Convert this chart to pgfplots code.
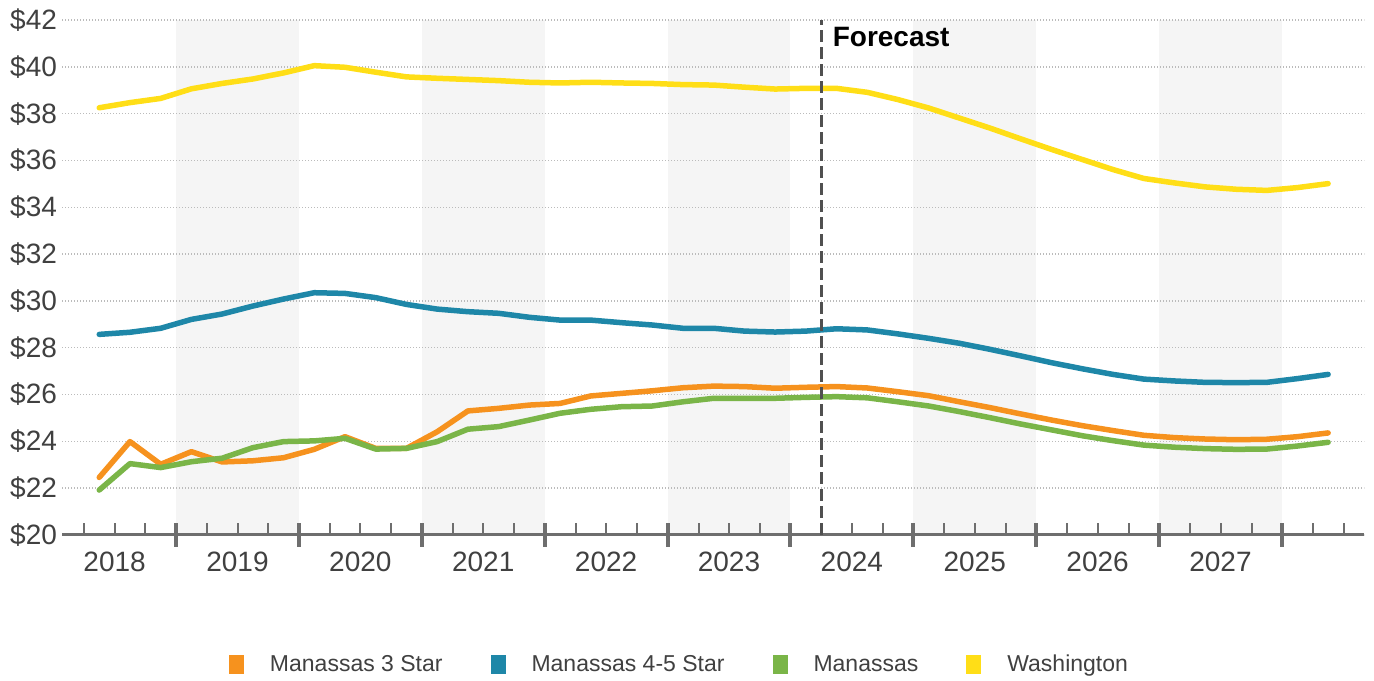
\documentclass[border=0pt]{standalone}
\usepackage{pgfplots}
\pgfplotsset{compat=1.18}
\usepackage{pgfplotstable}
\usepackage{fontspec}
\setmainfont{Liberation Sans}

\definecolor{star3}{HTML}{F6921E}
\definecolor{star45}{HTML}{1E87A8}
\definecolor{manassas}{HTML}{7AB548}
\definecolor{washington}{HTML}{FFDE17}
\definecolor{band}{HTML}{F5F5F5}
\definecolor{axisgray}{HTML}{6E6E6E}
\definecolor{dashgray}{HTML}{505050}
\definecolor{labelgray}{HTML}{404040}
\definecolor{gridgray}{HTML}{BBBBBB}

% Quarterly asking rent per square foot, 2018 Q2 - 2028 Q2
\pgfplotstableread{
x        s3     s45    man    wash
2018.375 22.46  28.57  21.92  38.25
2018.625 23.99  28.66  23.05  38.47
2018.875 23.02  28.83  22.88  38.65
2019.125 23.56  29.21  23.13  39.06
2019.375 23.12  29.44  23.28  39.29
2019.625 23.17  29.78  23.73  39.48
2019.875 23.30  30.08  23.99  39.74
2020.125 23.66  30.35  24.02  40.05
2020.375 24.20  30.32  24.13  39.98
2020.625 23.70  30.14  23.67  39.77
2020.875 23.70  29.85  23.70  39.57
2021.125 24.41  29.65  23.99  39.51
2021.375 25.30  29.54  24.52  39.46
2021.625 25.41  29.47  24.63  39.41
2021.875 25.55  29.30  24.91  39.34
2022.125 25.62  29.18  25.20  39.31
2022.375 25.94  29.18  25.37  39.34
2022.625 26.05  29.07  25.48  39.31
2022.875 26.16  28.97  25.51  39.29
2023.125 26.29  28.83  25.69  39.24
2023.375 26.36  28.83  25.84  39.22
2023.625 26.34  28.71  25.84  39.13
2023.875 26.27  28.67  25.84  39.05
2024.125 26.31  28.71  25.88  39.08
2024.375 26.34  28.81  25.91  39.08
2024.625 26.28  28.76  25.86  38.91
2024.875 26.12  28.59  25.69  38.60
2025.125 25.95  28.40  25.51  38.24
2025.375 25.69  28.19  25.27  37.81
2025.625 25.44  27.93  25.01  37.38
2025.875 25.17  27.65  24.74  36.92
2026.125 24.91  27.36  24.49  36.47
2026.375 24.67  27.10  24.24  36.04
2026.625 24.46  26.86  24.03  35.61
2026.875 24.26  26.66  23.84  35.23
2027.125 24.16  26.58  23.75  35.04
2027.375 24.10  26.52  23.69  34.87
2027.625 24.07  26.51  23.66  34.77
2027.875 24.09  26.52  23.67  34.72
2028.125 24.20  26.68  23.80  34.84
2028.375 24.36  26.86  23.96  35.01
}\rents

\begin{document}
\begin{tikzpicture}
\begin{axis}[
  at={(31bp,73bp)}, anchor=south west,
  scale only axis, width=651bp, height=257.5bp,
  xmin=2018.072, xmax=2028.667, ymin=20, ymax=42,
  set layers,
  axis x line*=bottom, axis y line*=left,
  y axis line style={draw=none},
  x axis line style={draw=axisgray, line width=1.5bp},
  ytick={20,22,...,42},
  yticklabels={\$20,\$22,\$24,\$26,\$28,\$30,\$32,\$34,\$36,\$38,\$40,\$42},
  ytick style={draw=none},
  ymajorgrids,
  y grid style={gridgray, line width=0.7bp, dash pattern=on 0.7bp off 0.8bp},
  xtick={2018.5,2019.5,...,2027.5},
  xticklabels={2018,2019,2020,2021,2022,2023,2024,2025,2026,2027},
  minor xtick={2018.25,2018.5,...,2028.5},
  xtick align=inside,
  major tick length=0pt,
  minor tick length=6bp,
  minor x tick style={draw=axisgray, line width=1bp},
  extra x ticks={2019,2020,...,2028},
  extra x tick labels={},
  extra x tick style={major tick length=12bp, xtick align=center,
    major x tick style={draw=axisgray, line width=2bp}, grid=none},
  tick label style={font=\fontsize{14bp}{16bp}\selectfont, text=labelgray},
  xticklabel style={yshift=-5bp},
  yticklabel style={xshift=1bp},
  every axis plot/.append style={line width=2.75bp, line join=round, line cap=round, no markers},
  legend columns=4,
  legend cell align=left,
  legend style={at={(0.475,-0.2524)}, anchor=center, draw=none, fill=none,
    font=\fontsize{11.5bp}{14bp}\selectfont, text=labelgray,
    /tikz/every even column/.append style={column sep=22bp}},
  legend image code/.code={%
    \fill[#1, draw=none] (0bp,-4.75bp) rectangle (7.5bp,4.75bp);
    \path[draw=none] (0bp,0bp) -- (18.5bp,0bp);},
]
\begin{pgfonlayer}{axis background}
  \fill[band] (axis cs:2019,20) rectangle (axis cs:2020,42);
  \fill[band] (axis cs:2021,20) rectangle (axis cs:2022,42);
  \fill[band] (axis cs:2023,20) rectangle (axis cs:2024,42);
  \fill[band] (axis cs:2025,20) rectangle (axis cs:2026,42);
  \fill[band] (axis cs:2027,20) rectangle (axis cs:2028,42);
\end{pgfonlayer}

\addplot[color=star3] table[x=x, y=s3] {\rents};
\addlegendentry{Manassas 3 Star}
\addplot[color=star45] table[x=x, y=s45] {\rents};
\addlegendentry{Manassas 4-5 Star}
\addplot[color=manassas] table[x=x, y=man] {\rents};
\addlegendentry{Manassas}
\addplot[color=washington] table[x=x, y=wash] {\rents};
\addlegendentry{Washington}

% forecast divider
\draw[dashgray, line width=1.5bp, dash pattern=on 6bp off 2.5bp]
  (axis cs:2024.25,20) -- (axis cs:2024.25,42);
\node[anchor=north west, inner sep=0pt, xshift=5.6bp, yshift=-3.3bp,
  font=\bfseries\fontsize{14bp}{16bp}\selectfont, text=black]
  at (axis cs:2024.25,42) {Forecast};
\end{axis}
\pgfresetboundingbox
\path[use as bounding box] (0,0) rectangle (687bp,340.5bp);
\end{tikzpicture}
\end{document}
